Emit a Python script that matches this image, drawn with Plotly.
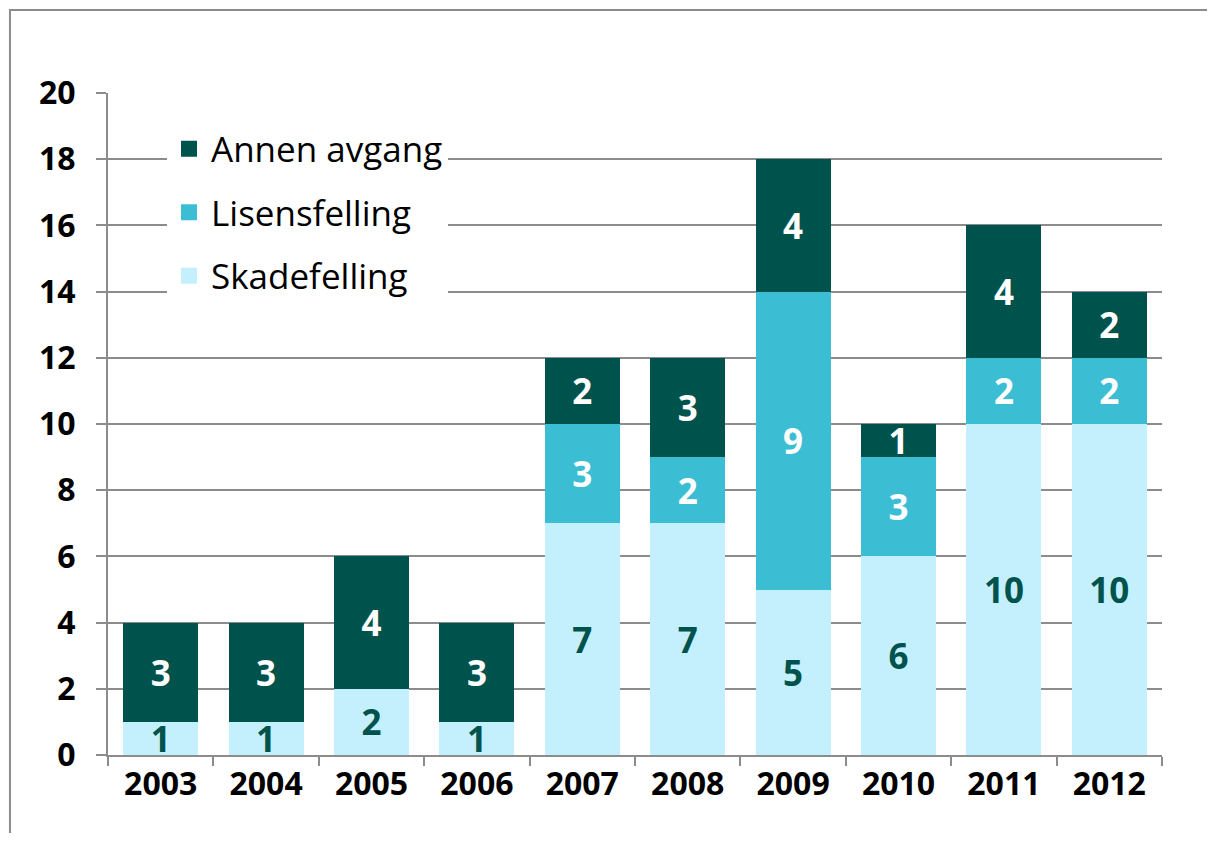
import plotly.graph_objects as go

years = ["2003", "2004", "2005", "2006", "2007", "2008", "2009", "2010", "2011", "2012"]
skadefelling = [1, 1, 2, 1, 7, 7, 5, 6, 10, 10]
lisensfelling = [0, 0, 0, 0, 3, 2, 9, 3, 2, 2]
annen_avgang = [3, 3, 4, 3, 2, 3, 4, 1, 4, 2]

c_dark = "#00524C"
c_mid = "#3BBED3"
c_light = "#C4EFFC"
FONT = "Open Sans"

def labels(vals):
    return [str(v) if v else "" for v in vals]

fig = go.Figure()
series = [
    ("Skadefelling", skadefelling, c_light, c_dark),
    ("Lisensfelling", lisensfelling, c_mid, "white"),
    ("Annen avgang", annen_avgang, c_dark, "white"),
]
for name, vals, col, tcol in series:
    fig.add_trace(go.Bar(
        x=years, y=vals, name=name, marker=dict(color=col, line=dict(width=0)),
        text=labels(vals), textposition="inside", insidetextanchor="middle",
        constraintext="none", textangle=0,
        textfont=dict(family=FONT, size=35, color=tcol, weight="bold"),
        showlegend=False, hoverinfo="skip", cliponaxis=True,
    ))

# legend entries (order as in reference)
for name, vals, col, tcol in reversed(series):
    fig.add_trace(go.Scatter(
        x=[None], y=[None], mode="markers", name=name,
        marker=dict(symbol="square", size=22, color=col),
        legendgroup=name,
    ))

fig.update_layout(
    barmode="stack",
    bargap=0.29,
    width=1199, height=825,
    margin=dict(l=100, r=45, t=85, b=78),
    paper_bgcolor="white", plot_bgcolor="white",
    font=dict(family=FONT, color="black"),
    legend=dict(
        x=0.056, y=0.96, xanchor="left", yanchor="top",
        bgcolor="white", font=dict(family=FONT, size=35, color="black"),
        traceorder="grouped", tracegroupgap=15, itemsizing="trace",
        itemwidth=34,
    ),
    shapes=[dict(
        type="rect", xref="paper", yref="paper",
        x0=-0.093, x1=1.0484, y0=-0.25, y1=1.1254,
        line=dict(color="#8C8C8C", width=2), layer="below",
    )],
)
fig.update_xaxes(
    type="category", tickson="boundaries", ticks="outside", ticklen=9,
    tickcolor="#8C8C8C", tickwidth=2,
    showline=True, linecolor="#8C8C8C", linewidth=2,
    tickfont=dict(family=FONT, size=32, color="black", weight="bold"),
    showgrid=False,
)
fig.update_yaxes(
    range=[0, 20], dtick=2, ticks="outside", ticklen=10,
    tickcolor="#8C8C8C", tickwidth=2,
    showline=True, linecolor="#8C8C8C", linewidth=2,
    showgrid=True, gridcolor="#8C8C8C", gridwidth=2,
    zeroline=False,
    tickfont=dict(family=FONT, size=32, color="black", weight="bold"),
    ticklabelstandoff=14,
)
fig.write_html("out.html")
